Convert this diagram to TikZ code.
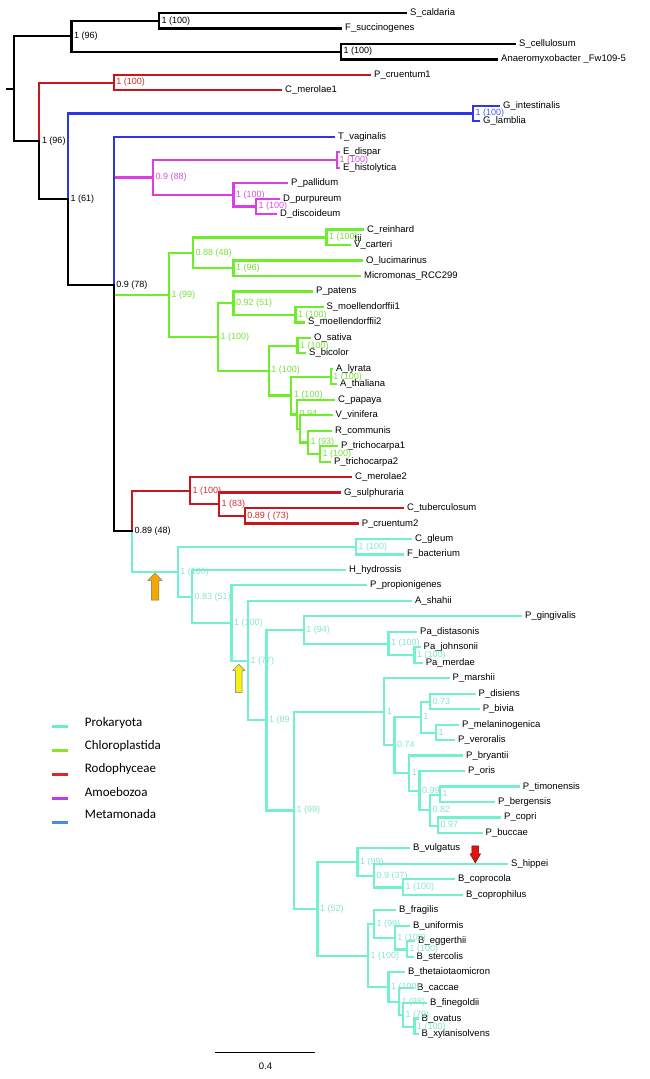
\documentclass[tikz,border=0pt]{standalone}
\usepackage{fontspec}
\setmainfont{Liberation Sans}
\newfontfamily\legendfont{Carlito}
\usepackage{tikz}
\usetikzlibrary{positioning, shapes.arrows}

\definecolor{prok}{RGB}{115,240,205}
\definecolor{chloro}{RGB}{110,238,40}
\definecolor{rhodo}{RGB}{200,22,28}
\definecolor{amoeb}{RGB}{218,62,228}
\definecolor{meta}{RGB}{45,55,232}
\definecolor{prokt}{RGB}{135,228,205}
\definecolor{chlorot}{RGB}{118,224,58}
\definecolor{rhodot}{RGB}{205,45,45}
\definecolor{amoebt}{RGB}{212,82,224}
\definecolor{metat}{RGB}{70,90,235}
\definecolor{legprok}{RGB}{110,236,200}
\definecolor{legchloro}{RGB}{140,226,40}
\definecolor{legrhodo}{RGB}{222,40,40}
\definecolor{legamoeb}{RGB}{188,60,232}
\definecolor{legmeta}{RGB}{70,140,232}

\begin{document}
\begin{tikzpicture}[x=1pt, y=-1pt,
      br/.style={line width=2.2pt, line cap=rect},
      leaf/.style={font=\fontsize{9.5}{10}\selectfont, inner sep=0pt,
                   text height=6.8pt, text depth=1.8pt},
      bs/.style={font=\fontsize{9}{10}\selectfont, inner sep=0pt,
                 text height=6.5pt, text depth=1.8pt},
      legline/.style={line width=2.6pt},
      legtext/.style={font={\legendfont\fontsize{13}{14}\selectfont}, inner sep=0pt, anchor=west},
      flagarrow/.style={single arrow, draw, line width=0.5pt, inner xsep=0pt,
                        single arrow head indent=0pt},
      node distance=4pt
    ]
    \useasboundingbox (0,0) rectangle (649,1079);

    \foreach \n/\x/\y in {root/14/88.6, tc/71.5/36.2, sc/159/20.8, cc/341/51.6,
        n1/39.3/141, rh1/113.6/82.6, n2/68/199.3, gi/473/113.5,
        n3/113.6/285, n3a/113.6/157, am/153/177.4, en/337/160, dc/233.5/194.8, dd/256/206.4,
        n3b/113.6/413.1, g0/169/294.8, g1/193/252.8, ch/326.5/237.4, om/233.5/268.3,
        g2/218/336.9, ps/233.5/303.1, sm/295.5/314.7, an/268.6/370.6, mo/297.5/345.7,
        eu/291.3/395.5, ar/330.6/376.7, r1/297/414.4, r2/299.6/428.9, r3/307.9/442.4, ptn/320/454,
        n4/132/531.3, rc/190/490.8, rc1/219/504.3, rc2/244.6/516,
        t0/177.7/571.8, cf/356/546.9, t1/192/596.7, t2/231.4/623.2, t3/248/660.7, t4/266.5/720.3,
        n94/303.7/630.1, pa/388.4/643.6, pjm/414.5/655.3, n99/294/810.5,
        pv0/384.3/711.9, pv1/394.5/745.3, pv2/420.7/717.2, pdb/429.8/701.7, pmv/436/732.7,
        pv3/409/773.3, pv4/419.4/790.7, pv5/429.8/810.1, ptb/440/794.6, pcb/438/825.6,
        b0/317.4/909.1, b1/357.4/862.3, b1a/374/875.9, bcp/403/887.5,
        b2/367.8/955.8, b2a/374/924.3, b2a1/394.6/937.8, bes/407/949.4,
        b2b/388.4/987.2, b2b1/398.8/1001.7, bfn/403/1015.2, box/414.5/1026.8}
      \coordinate (\n) at (\x,\y);

    \foreach \n/\x/\t [count=\i] in {scal/406/S\_caldaria, fsuc/341/F\_succinogenes,
        scel/515/S\_cellulosum, anae/497/Anaeromyxobacter \_Fw109-5,
        pcr1/370/P\_cruentum1, cme1/281/C\_merolae1, gint/499/G\_intestinalis, glam/479/G\_lamblia,
        tvag/334/T\_vaginalis, edis/339/E\_dispar, ehis/339/E\_histolytica, ppal/287/P\_pallidum,
        dpur/279/D\_purpureum, ddis/276/D\_discoideum, crei/363/C\_reinhard, vcar/350/V\_carteri,
        oluc/362/O\_lucimarinus, micr/360/Micromonas\_RCC299, ppat/312/P\_patens,
        smo1/322.4/S\_moellendorffii1, smo2/304/S\_moellendorffii2, osat/310/O\_sativa,
        sbic/305/S\_bicolor, alyr/332/A\_lyrata, atha/336/A\_thaliana, cpap/334/C\_papaya,
        vvin/331.5/V\_vinifera, rcom/331/R\_communis, ptr1/337/P\_trichocarpa1,
        ptr2/330/P\_trichocarpa2, cme2/351/C\_merolae2, gsul/340/G\_sulphuraria,
        ctub/403/C\_tuberculosum, pcr2/357.6/P\_cruentum2, cgle/411/C\_gleum,
        fbac/403/F\_bacterium, hhyd/345/H\_hydrossis, ppro/366/P\_propionigenes,
        asha/411/A\_shahii, pgin/521/P\_gingivalis, pdst/416/Pa\_distasonis,
        pjoh/419.5/Pa\_johnsonii, pmer/421.6/Pa\_merdae, pmar/448.5/P\_marshii,
        pdis/474.5/P\_disiens, pbiv/478.6/P\_bivia, pmel/458/P\_melaninogenica,
        pver/454/P\_veroralis, pbry/462/P\_bryantii, pori/464/P\_oris,
        ptim/518.7/P\_timonensis, pber/494/P\_bergensis, pcop/500/P\_copri,
        pbuc/481.5/P\_buccae, bvul/409/B\_vulgatus, ship/507/S\_hippei,
        bcpc/454/B\_coprocola, bcph/462/B\_coprophilus, bfra/395/B\_fragilis,
        buni/409/B\_uniformis, begg/414/B\_eggerthii, bste/412.5/B\_stercolis,
        bthe/404/B\_thetaiotaomicron, bcac/413/B\_caccae, bfin/426/B\_finegoldii,
        bova/417.5/B\_ovatus, bxyl/417.5/B\_xylanisolvens} {
      \coordinate (\n) at (\x,{13+15.47*(\i-1)});
      \node[leaf, right=4pt of \n] (\n-lab) {\t};
    }
    \node[leaf, anchor=west] (crei-tii) at (354.5,238.5) {tii};

    \foreach \p/\c in {n4/t0, t0/cf, cf/cgle, cf/fbac, t0/t1, t1/hhyd, t1/t2, t2/ppro,
        t2/t3, t3/asha, t3/t4, t4/n94, n94/pgin, n94/pa, pa/pdst, pa/pjm, pjm/pjoh, pjm/pmer,
        t4/n99, n99/pv0, pv0/pmar, pv0/pv1, pv1/pv2, pv2/pdb, pdb/pdis, pdb/pbiv, pv2/pmv,
        pmv/pmel, pmv/pver, pv1/pv3, pv3/pbry, pv3/pv4, pv4/pori, pv4/pv5, pv5/ptb,
        ptb/ptim, ptb/pber, pv5/pcb, pcb/pcop, pcb/pbuc, n99/b0, b0/b1, b1/bvul, b1/b1a,
        b1a/ship, b1a/bcp, bcp/bcpc, bcp/bcph, b0/b2, b2/b2a, b2a/bfra, b2a/b2a1,
        b2a1/buni, b2a1/bes, bes/begg, bes/bste, b2/b2b, b2b/bthe, b2b/b2b1, b2b1/bcac,
        b2b1/bfn, bfn/bfin, bfn/box, box/bova, box/bxyl}
      \draw[br, prok] (\p) |- (\c);
    \foreach \p/\c in {n3b/g0, g0/g1, g1/ch, ch/crei, ch/vcar, g1/om, om/oluc, om/micr,
        g0/g2, g2/ps, ps/ppat, ps/sm, sm/smo1, sm/smo2, g2/an, an/mo, mo/osat, mo/sbic,
        an/eu, eu/ar, ar/alyr, ar/atha, eu/r1, r1/cpap, r1/r2, r2/vvin, r2/r3, r3/rcom,
        r3/ptn, ptn/ptr1, ptn/ptr2}
      \draw[br, chloro] (\p) |- (\c);
    \foreach \p/\c in {n3a/am, am/en, en/edis, en/ehis, am/dc, dc/ppal, dc/dd, dd/dpur, dd/ddis}
      \draw[br, amoeb] (\p) |- (\c);
    \foreach \p/\c in {n1/rh1, rh1/pcr1, rh1/cme1, n4/rc, rc/cme2, rc/rc1, rc1/gsul,
        rc1/rc2, rc2/ctub, rc2/pcr2}
      \draw[br, rhodo] (\p) |- (\c);
    \foreach \p/\c in {n2/gi, gi/gint, gi/glam, n3/n3a, n3a/tvag}
      \draw[br, meta] (\p) |- (\c);
    \foreach \p/\c in {root/tc, root/n1, tc/sc, tc/cc, sc/scal, sc/fsuc, cc/scel, cc/anae,
        n1/n2, n2/n3, n3/n3b, n3b/n4}
      \draw[br, black] (\p) |- (\c);
    \coordinate (stub) at (7,88.6);
    \draw[br] (stub) -- (root);

    \foreach \n/\t in {tc/1 (96), sc/1 (100), cc/1 (100), n1/1 (96), n2/1 (61),
        n3/0.9 (78), n4/0.89 (48)}
      \node[bs, right=2.5pt of \n] (\n-bs) {\t};
    \foreach \n/\t in {rh1/1 (100), rc/1 (100), rc1/1 (83), rc2/0.89 ( (73)}
      \node[bs, text=rhodot, right=2.5pt of \n] (\n-bs) {\t};
    \foreach \n/\t in {gi/1 (100)}
      \node[bs, text=metat, right=2.5pt of \n] (\n-bs) {\t};
    \foreach \n/\t in {am/0.9 (88), en/1 (100), dc/1 (100), dd/1 (100)}
      \node[bs, text=amoebt, right=2.5pt of \n] (\n-bs) {\t};
    \foreach \n/\t in {g0/1 (99), g1/0.88 (48), ch/1 (100), om/1 (96), g2/1 (100),
        ps/0.92 (51), sm/1 (100), an/1 (100), mo/1 (100), eu/1 (100), ar/1 (100),
        r1/0.94, r3/1 (93), ptn/1 (100)}
      \node[bs, text=chlorot, right=2.5pt of \n] (\n-bs) {\t};
    \foreach \n/\t in {t0/1 (100), cf/1 (100), t1/0.83 (51), t2/1 (100), t3/1 (77),
        t4/1 (89, n94/1 (94), pa/1 (100), pjm/1 (100), n99/1 (99), pv0/1, pv1/0.74,
        pv2/1, pdb/0.73, pmv/1, pv3/1, pv4/0.99, pv5/0.82, ptb/1, pcb/0.97,
        b0/1 (52), b1/1 (99), b1a/0.9 (37), bcp/1 (100), b2/1 (100), b2a/1 (99),
        b2a1/1 (100), bes/1 (100), b2b/1 (100), b2b1/1 (98), bfn/1 (79), box/1 (100)}
      \node[bs, text=prokt, right=2.5pt of \n] (\n-bs) {\t};

    \node[flagarrow, fill={rgb,255:red,245;green,168;blue,0}, draw=black!55,
          inner ysep=3.5pt, minimum height=27pt, single arrow head extend=3.5pt,
          rotate=90] (arrowA) at (155,588.5) {};
    \node[flagarrow, fill={rgb,255:red,245;green,240;blue,20}, draw=black!55,
          inner ysep=3.1pt, minimum height=28pt, single arrow head extend=2.6pt,
          rotate=90] (arrowB) at (238.8,680) {};
    \node[flagarrow, fill={rgb,255:red,220;green,20;blue,20}, draw=red!50!black,
          inner ysep=3.1pt, minimum height=17pt, single arrow head extend=1.8pt,
          single arrow tip angle=60, rotate=-90] (arrowC) at (475.3,851.5) {};

    \foreach \c/\t [count=\i] in {legprok/Prokaryota, legchloro/Chloroplastida,
        legrhodo/Rodophyceae, legamoeb/Amoebozoa, legmeta/Metamonada} {
      \coordinate (lga\i) at (52,{726.7+23.9*(\i-1)});
      \coordinate (lgb\i) at (68,{726.7+23.9*(\i-1)});
      \draw[legline, \c] (lga\i) -- (lgb\i);
      \node[legtext] (lgt\i) at (84.7,{723.3+22.8*(\i-1)}) {\t};
    }

    \coordinate (sbl) at (215,1052.7);
    \coordinate (sbr) at (315,1052.7);
    \draw[line width=1.3pt] (sbl) -- (sbr);
    \node[leaf] (sbt) at (265.5,1067) {0.4};
  \end{tikzpicture}
\end{document}
